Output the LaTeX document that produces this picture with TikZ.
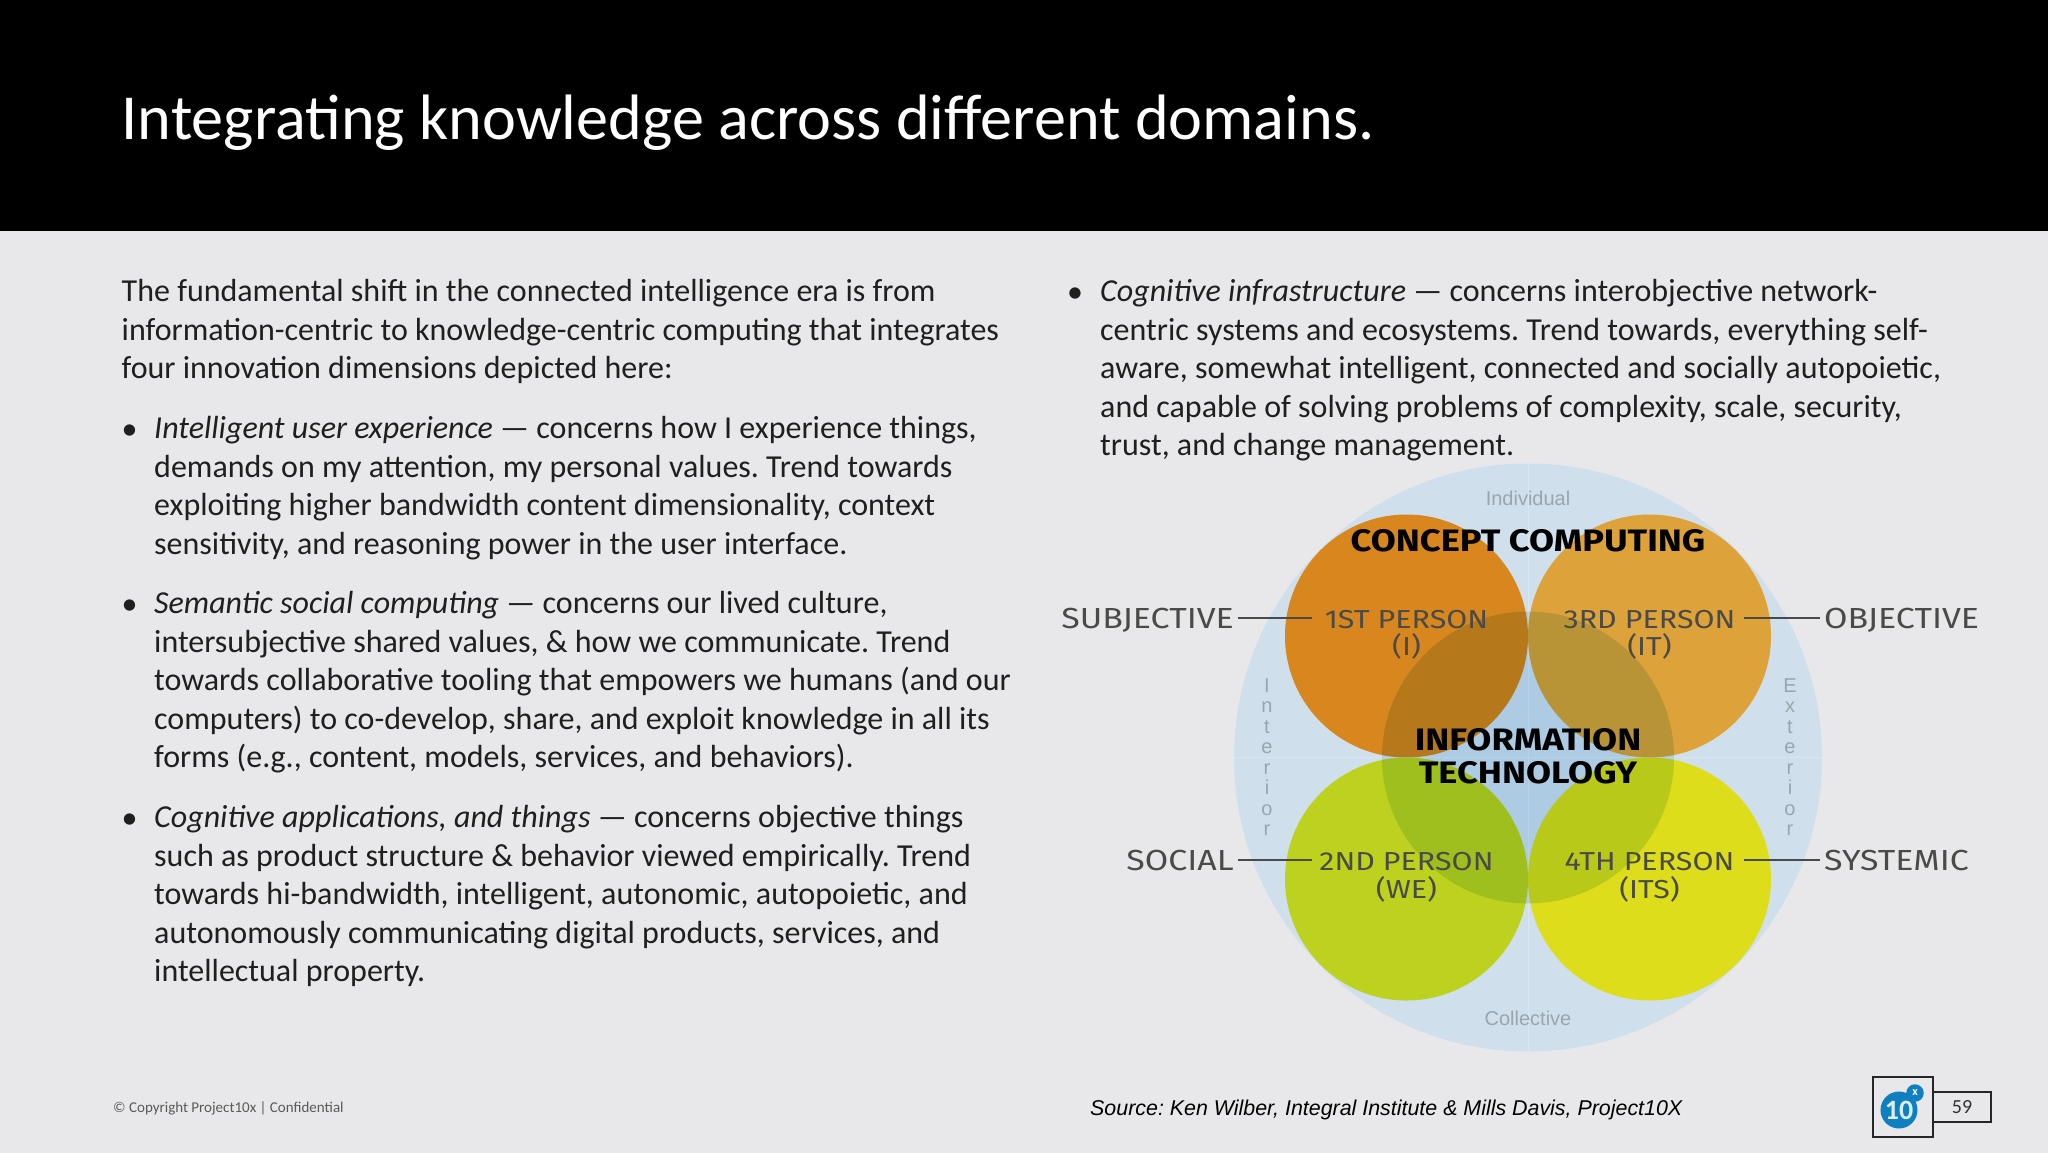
\documentclass[tikz,border=0pt]{standalone}
\usepackage{fontspec}
\setmainfont{Carlito}
\newfontfamily\arialfont{Liberation Sans}
\newfontfamily\handfont[FakeStretch=1.17]{Fira Sans}
\usetikzlibrary{positioning,shapes.geometric}
\definecolor{pagegray}{HTML}{E8E8EA}
\definecolor{quadblue}{HTML}{CFE0EC}
\definecolor{quadline}{HTML}{DBE7F0}
\definecolor{overlay}{HTML}{D6E8F5}
\definecolor{iorange}{HTML}{D8861E}
\definecolor{itorange}{HTML}{DDA33A}
\definecolor{wegreen}{HTML}{BDD21F}
\definecolor{itsyellow}{HTML}{DDDD1C}
\definecolor{axisgray}{HTML}{9AA5AD}
\definecolor{handgray}{HTML}{4A4A48}
\definecolor{logoblue}{HTML}{0E7FBF}
\tikzset{
  bodytext/.style={anchor=north west,inner sep=0pt,align=left,text=black!88,font=\frenchspacing\fontsize{32}{38.5}\selectfont},
  bullet/.style={anchor=north west,inner sep=0pt,text=black!88,font=\fontsize{32}{38.5}\selectfont},
  disc/.style={circle,draw=none,inner sep=0pt,minimum size=243pt},
  axislabel/.style={text=axisgray,inner sep=0pt,font=\arialfont\fontsize{20}{20.5}\selectfont,align=center},
  handlabel/.style={text=handgray,inner xsep=4pt,inner ysep=0pt,text height=21pt,text depth=0pt,font=\handfont\fontsize{29}{30}\selectfont},
  personlabel/.style={handlabel,font=\handfont\fontsize{26}{27}\selectfont,inner xsep=0pt,minimum width=188pt},
  bigtitle/.style={text=black,inner sep=0pt,align=center,font=\handfont\bfseries\fontsize{31}{33}\selectfont},
  leader/.style={draw=handgray,line width=1.3pt},
  framebox/.style={draw=black!85,line width=1.6pt,inner sep=0pt}
}
\begin{document}
\begin{tikzpicture}[x=1pt,y=-1pt]
  \useasboundingbox (0,0) rectangle (2048,1153);
  \fill[pagegray] (0,0) rectangle (2048,1153);
  \fill[black] (0,0) rectangle (2048,231);
  \node[anchor=base west,inner sep=0pt,text=white,font=\fontsize{64.2}{70}\selectfont] (title) at (121.5,140) {Integrating knowledge across different domains.};

  % left column
  \node[bodytext] (intro) at (121.5,279.5) {The fundamental shift in the connected intelligence era is from\\information-centric to knowledge-centric computing that integrates\\four innovation dimensions depicted here:};
  \node[bullet] (b1) at (121.5,425) {•};
  \node[bodytext] (ux) at (154,416.5) {\textit{Intelligent user experience} — concerns how I experience things,\\demands on my attention, my personal values. Trend towards\\exploiting higher bandwidth content dimensionality, context\\sensitivity, and reasoning power in the user interface.};
  \node[bullet] (b2) at (121.5,600) {•};
  \node[bodytext] (social) at (154,591.5) {\textit{Semantic social computing} — concerns our lived culture,\\intersubjective shared values, \& how we communicate. Trend\\towards collaborative tooling that empowers we humans (and our\\computers) to co-develop, share, and exploit knowledge in all its\\forms (e.g., content, models, services, and behaviors).};
  \node[bullet] (b3) at (121.5,814) {•};
  \node[bodytext] (apps) at (154,805.5) {\textit{Cognitive applications, and things} — concerns objective things\\such as product structure \& behavior viewed empirically. Trend\\towards hi-bandwidth, intelligent, autonomic, autopoietic, and\\autonomously communicating digital products, services, and\\intellectual property.};

  % right column
  \node[bullet] (b4) at (1067,288) {•};
  \node[bodytext] (infra) at (1100,279.5) {\textit{Cognitive infrastructure} — concerns interobjective network-\\centric systems and ecosystems. Trend towards, everything self-\\aware, somewhat intelligent, connected and socially autopoietic,\\and capable of solving problems of complexity, scale, security,\\trust, and change management.};

  % quadrant circles
  \node[circle,fill=quadblue,inner sep=0pt,minimum size=588pt] (quad) at (1528,757.5) {};
  \draw[quadline,line width=1pt] (quad.north) -- (quad.south);
  \draw[quadline,line width=1pt] (quad.west) -- (quad.east);
  \node[disc,fill=iorange] (ul) at (1406.5,636) {};
  \node[disc,fill=itorange] (ur) at (1649.5,636) {};
  \node[disc,fill=wegreen] (ll) at (1406.5,879) {};
  \node[disc,fill=itsyellow] (lr) at (1649.5,879) {};
  \node[circle,fill=overlay,inner sep=0pt,minimum size=292pt,blend mode=multiply] (mid) at (1528,757.5) {};

  \node[axislabel] (individual) at (1528,498) {Individual};
  \node[axislabel] (collective) at (1528,1018) {Collective};
  \node[axislabel] (interior) at (1267,757) {I\\n\\t\\e\\r\\i\\o\\r};
  \node[axislabel] (exterior) at (1790,757) {E\\x\\t\\e\\r\\i\\o\\r};

  \node[bigtitle] (concept) at (1528,541) {CONCEPT COMPUTING};
  \node[bigtitle] (infotech) at (1528,756) {INFORMATION\\TECHNOLOGY};

  \node[personlabel] (first) at (1406.5,618) {1ST PERSON};
  \node[personlabel,below=6pt of first] (firsti) {(I)};
  \node[personlabel] (third) at (1649.5,618) {3RD PERSON};
  \node[personlabel,below=6pt of third] (thirdit) {(IT)};
  \node[personlabel] (second) at (1406.5,860) {2ND PERSON};
  \node[personlabel,below=7pt of second] (secondwe) {(WE)};
  \node[personlabel] (fourth) at (1649.5,860) {4TH PERSON};
  \node[personlabel,below=7pt of fourth] (fourthits) {(ITS)};

  \node[handlabel,anchor=east] (subjective) at (1238,618) {SUBJECTIVE};
  \node[handlabel,anchor=west] (objective) at (1820,618) {OBJECTIVE};
  \node[handlabel,anchor=east] (socialdim) at (1238,860) {SOCIAL};
  \node[handlabel,anchor=west] (systemic) at (1820,860) {SYSTEMIC};

  \draw[leader] (subjective.east) -- (first.west);
  \draw[leader] (objective.west) -- (third.east);
  \draw[leader] (socialdim.east) -- (second.west);
  \draw[leader] (systemic.west) -- (fourth.east);

  % footer
  \node[anchor=west,inner sep=0pt,text=black!65,font=\fontsize{15}{16}\selectfont] (copyright) at (113,1108.5) {© Copyright Project10x | Confidential};
  \node[anchor=west,inner sep=0pt,text=black,font=\arialfont\itshape\frenchspacing\fontsize{21.4}{24}\selectfont] (source) at (1090,1110) {Source: Ken Wilber, Integral Institute \& Mills Davis, Project10X};
  \node[framebox,minimum width=58pt,minimum height=30pt,text=black!80,font=\fontsize{20}{22}\selectfont] (page) at (1962,1107) {59};
  \node[framebox,minimum size=60pt,left=-1.5pt of page] (logobox) {};
  \node[circle,fill=logoblue,inner sep=0pt,minimum size=37pt,text=white!85!logoblue,font=\bfseries\fontsize{28}{28}\selectfont] (logo) at (1899,1110) {10};
  \node[circle,fill=logoblue,inner sep=0pt,minimum size=17.5pt,text=white,font=\bfseries\fontsize{12}{12}\selectfont] (logox) at (1915,1093) {x};
\end{tikzpicture}
\end{document}
